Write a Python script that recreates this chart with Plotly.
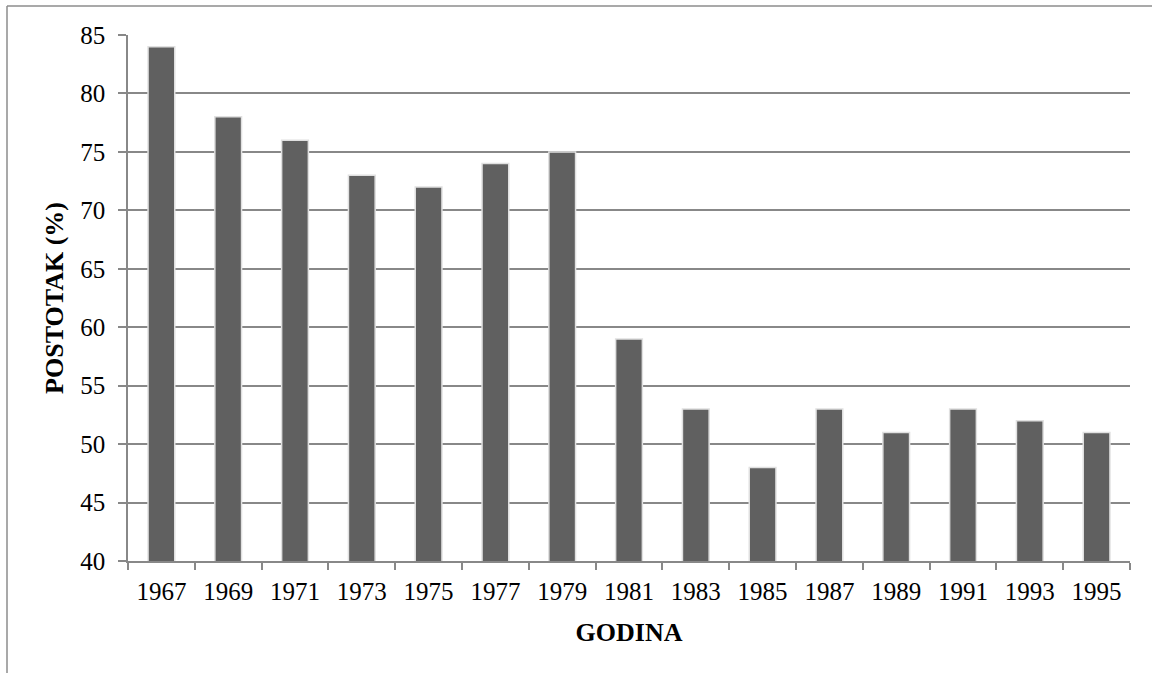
import plotly.graph_objects as go

years = ["1967", "1969", "1971", "1973", "1975", "1977", "1979", "1981",
         "1983", "1985", "1987", "1989", "1991", "1993", "1995"]
values = [84, 78, 76, 73, 72, 74, 75, 59, 53, 48, 53, 51, 53, 52, 51]
y_ticks = [40, 45, 50, 55, 60, 65, 70, 75, 80, 85]

W, H = 1152, 673
ml, mr, mt, mb = 128, 22, 35, 112
pw, ph = W - ml - mr, H - mt - mb

def px_x(x):
    return (x - ml) / pw

def px_y(y):
    return 1 - (y - mt) / ph

fig = go.Figure(go.Bar(
    x=years, y=values,
    marker=dict(color="#606060", line=dict(color="#e0e0e0", width=1.5)),
    hoverinfo="x+y",
))

font = "Liberation Serif, Times New Roman, serif"
fig.update_layout(
    width=W, height=H,
    margin=dict(l=ml, r=mr, t=mt, b=mb),
    paper_bgcolor="white", plot_bgcolor="white",
    bargap=0.6,
    showlegend=False,
    font=dict(family=font, size=25, color="black"),
    xaxis=dict(
        type="category",
        tickson="boundaries",
        ticks="outside", ticklen=7, tickcolor="#888888", tickwidth=1.5,
        showline=True, linecolor="#888888", linewidth=1.5,
        showgrid=False,
        ticklabelstandoff=7,
        tickfont=dict(family=font, size=25),
        title=dict(text="<b>GODINA</b>", font=dict(family=font, size=26), standoff=19),
    ),
    yaxis=dict(
        range=[40, 85], tickvals=y_ticks,
        ticks="outside", ticklen=8, tickcolor="#888888", tickwidth=1.5,
        showline=True, linecolor="#888888", linewidth=1.5,
        showgrid=True, gridcolor="#888888", gridwidth=1.5,
        zeroline=False,
        ticklabelstandoff=8,
        tickfont=dict(family=font, size=25),
        title=dict(text="<b>POSTOTAK (%)</b>", font=dict(family=font, size=26), standoff=9),
    ),
    shapes=[
        dict(type="line", xref="paper", yref="paper",
             x0=px_x(7), x1=px_x(W), y0=px_y(6), y1=px_y(6),
             line=dict(color="#8c8c8c", width=1.5)),
        dict(type="line", xref="paper", yref="paper",
             x0=px_x(7), x1=px_x(7), y0=px_y(6), y1=px_y(H),
             line=dict(color="#8c8c8c", width=1.5)),
    ],
)

fig.write_html("out.html", config={"displayModeBar": False},
               post_script="document.body.style.margin='0';document.body.style.overflow='hidden';")
